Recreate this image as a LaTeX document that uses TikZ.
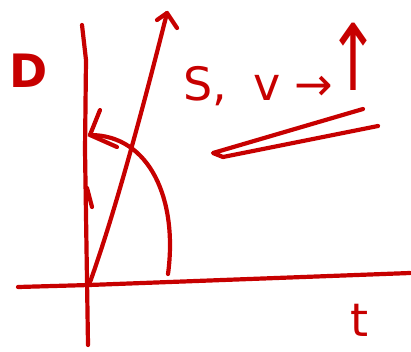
\documentclass[tikz,border=0pt]{standalone}
\usepackage{fontspec}
\setmainfont{DejaVu Sans}
\usetikzlibrary{arrows.meta}
\definecolor{tinta}{rgb}{0.78,0.0,0.0}
\tikzset{
  trazo/.style={
    draw=tinta,
    line width=4.2pt,
    line cap=round,
    line join=round
  },
  rotulo/.style={
    text=tinta,
    inner sep=0pt,
    font=\fontsize{46}{46}\selectfont
  }
}

\begin{document}
\begin{tikzpicture}[x=1pt,y=-1pt]
\useasboundingbox (0,0) rectangle (411,351);
% ejes
\coordinate (o) at (89,285);
\coordinate (ejeD) at (82,25);
\coordinate (ejeDfin) at (88,345);
\coordinate (ejeTini) at (18,287);
\coordinate (ejeT) at (410,273);
\draw[trazo] (ejeD) -- (86,60) -- (85,150) -- (ejeDfin);
\draw[trazo] (ejeTini) -- (o) -- (ejeT);
\draw[trazo] (87,188) -- (92,207);
% recta diagonal con punta
\coordinate (tope) at (167,13);
\draw[trazo] (o) .. controls (118,205) and (150,80) .. (tope);
\draw[trazo] (157,20) -- (tope) -- (177,28);
% arco con punta sobre el eje
\coordinate (pie) at (168,274);
\coordinate (llegada) at (90,135);
\draw[trazo] (pie) .. controls (178,200) and (150,135) .. (llegada);
\draw[trazo] (100,110) -- (llegada) -- (117,147);
% cuna
\coordinate (cunaA) at (363,109);
\coordinate (cunaB) at (213,153);
\coordinate (cunaC) at (223,157);
\coordinate (cunaD) at (378,126);
\draw[trazo] (cunaA) -- (cunaB) -- (cunaC) -- (cunaD);
% rotulos
\node[rotulo,font=\fontsize{46}{46}\bfseries] (D) at (29,71) {D};
\node[rotulo] (t) at (360,320) {t};
\node[rotulo,anchor=base west] (sv) at (183,100)
  {S,\hspace{26pt}v\hspace{14pt}→\hspace{-6pt}\raisebox{10pt}{\scalebox{1.4}[2.0]{↑}}};
\end{tikzpicture}
\end{document}
